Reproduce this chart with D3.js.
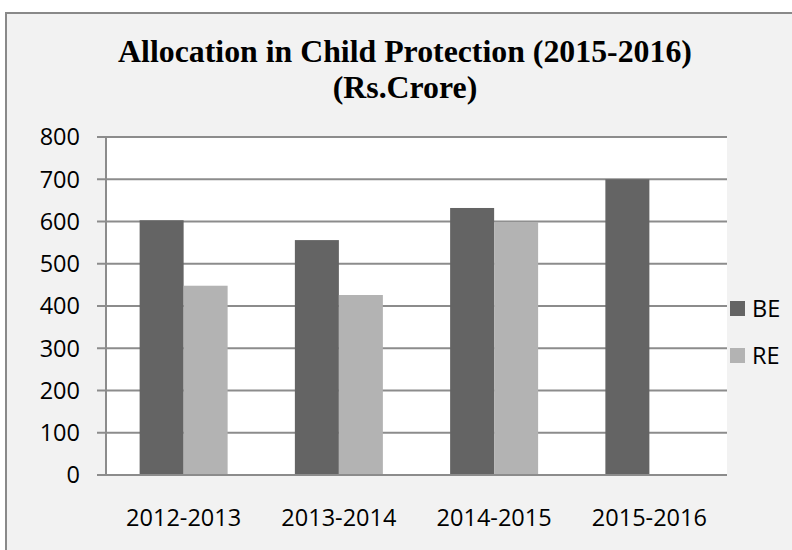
<!DOCTYPE html>
<html>
<head>
<meta charset="utf-8">
<script src="https://cdn.jsdelivr.net/npm/d3@7"></script>
<style>
  html, body { margin: 0; padding: 0; background: #ffffff; }
  svg { display: block; }
</style>
</head>
<body>
<svg id="chart" width="792" height="550"></svg>
<script>
// ---- Data ----
const categories = ["2012-2013", "2013-2014", "2014-2015", "2015-2016"];
const seriesNames = ["BE", "RE"];
const beValues = [603, 556, 632, 700];
const reValues = [448, 426, 599, null];
const yTicks = [0, 100, 200, 300, 400, 500, 600, 700, 800];
const titleLines = ["Allocation in Child Protection (2015-2016)", "(Rs.Crore)"];
const seriesColors = ["#646464", "#b3b3b3"];

const svg = d3.select("#chart");

// Outer chart panel
svg.append("rect")
  .attr("x", 6).attr("y", 13)
  .attr("width", 800).attr("height", 560)
  .attr("fill", "#f2f2f2")
  .attr("stroke", "#898989")
  .attr("stroke-width", 2);

// Plot area
const plot = { left: 106, right: 727, top: 137, bottom: 475 };

const x0 = d3.scaleBand()
  .domain(categories)
  .range([plot.left, plot.right])
  .paddingInner(0)
  .paddingOuter(0);

const groupW = 88;
const x1 = d3.scaleBand()
  .domain(seriesNames)
  .range([0, groupW])
  .padding(0);

const y = d3.scaleLinear()
  .domain([0, 800])
  .range([plot.bottom, plot.top]);

svg.append("rect")
  .attr("x", plot.left).attr("y", plot.top)
  .attr("width", plot.right - plot.left)
  .attr("height", plot.bottom - plot.top)
  .attr("fill", "#ffffff");

// Gridlines
const gridColor = "#8c8c8c";
svg.append("g")
  .selectAll("line")
  .data(yTicks)
  .join("line")
  .attr("x1", plot.left - 9)
  .attr("x2", plot.right)
  .attr("y1", d => y(d))
  .attr("y2", d => y(d))
  .attr("stroke", gridColor)
  .attr("stroke-width", 2);

// Y axis line
svg.append("line")
  .attr("x1", plot.left).attr("x2", plot.left)
  .attr("y1", plot.top).attr("y2", plot.bottom)
  .attr("stroke", gridColor)
  .attr("stroke-width", 2);

// Bars
const rows = categories.map((c, i) => ({ cat: c, vals: [beValues[i], reValues[i]] }));
const groups = svg.append("g")
  .selectAll("g")
  .data(rows)
  .join("g")
  .attr("transform", d => `translate(${x0(d.cat) + (x0.bandwidth() - groupW) / 2},0)`);

groups.selectAll("rect")
  .data(d => d.vals.map((v, j) => ({ s: seriesNames[j], v, j })).filter(e => e.v != null))
  .join("rect")
  .attr("x", d => x1(d.s))
  .attr("width", x1.bandwidth())
  .attr("y", d => y(d.v))
  .attr("height", d => y(0) - y(d.v))
  .attr("fill", d => seriesColors[d.j]);

// Redraw zero line over bars
svg.append("line")
  .attr("x1", plot.left - 9).attr("x2", plot.right)
  .attr("y1", y(0)).attr("y2", y(0))
  .attr("stroke", gridColor)
  .attr("stroke-width", 2);

const labelFont = "'Open Sans', 'Liberation Sans', sans-serif";
const labelSize = 23.5;

// Y tick labels
svg.append("g")
  .selectAll("text")
  .data(yTicks)
  .join("text")
  .attr("x", 80)
  .attr("y", d => y(d))
  .attr("dy", "0.36em")
  .attr("text-anchor", "end")
  .attr("font-family", labelFont)
  .attr("font-size", labelSize)
  .attr("fill", "#000")
  .text(d => d);

// X category labels
svg.append("g")
  .selectAll("text")
  .data(categories)
  .join("text")
  .attr("x", d => x0(d) + x0.bandwidth() / 2)
  .attr("y", 526)
  .attr("text-anchor", "middle")
  .attr("font-family", labelFont)
  .attr("font-size", labelSize)
  .attr("fill", "#000")
  .text(d => d);

// Title
const titleFont = "'Liberation Serif', 'DejaVu Serif', serif";
const t1 = svg.append("text")
  .attr("x", 405).attr("y", 62)
  .attr("text-anchor", "middle")
  .attr("font-family", titleFont)
  .attr("font-weight", "bold")
  .attr("font-size", 30)
  .attr("fill", "#000")
  .text(titleLines[0]);
const w1 = t1.node().getComputedTextLength();
const fs = 30 * 574 / w1;
t1.attr("font-size", fs);
svg.append("text")
  .attr("x", 405).attr("y", 98)
  .attr("text-anchor", "middle")
  .attr("font-family", titleFont)
  .attr("font-weight", "bold")
  .attr("font-size", fs)
  .attr("fill", "#000")
  .text(titleLines[1]);

// Legend
const legend = svg.append("g")
  .selectAll("g")
  .data(seriesNames)
  .join("g")
  .attr("transform", (d, i) => `translate(730,${301 + i * 47})`);
legend.append("rect")
  .attr("width", 15).attr("height", 15)
  .attr("fill", (d, i) => seriesColors[i]);
legend.append("text")
  .attr("x", 22).attr("y", 7.5)
  .attr("dy", "0.36em")
  .attr("font-family", labelFont)
  .attr("font-size", labelSize)
  .attr("fill", "#000")
  .text(d => d);
</script>
</body>
</html>
